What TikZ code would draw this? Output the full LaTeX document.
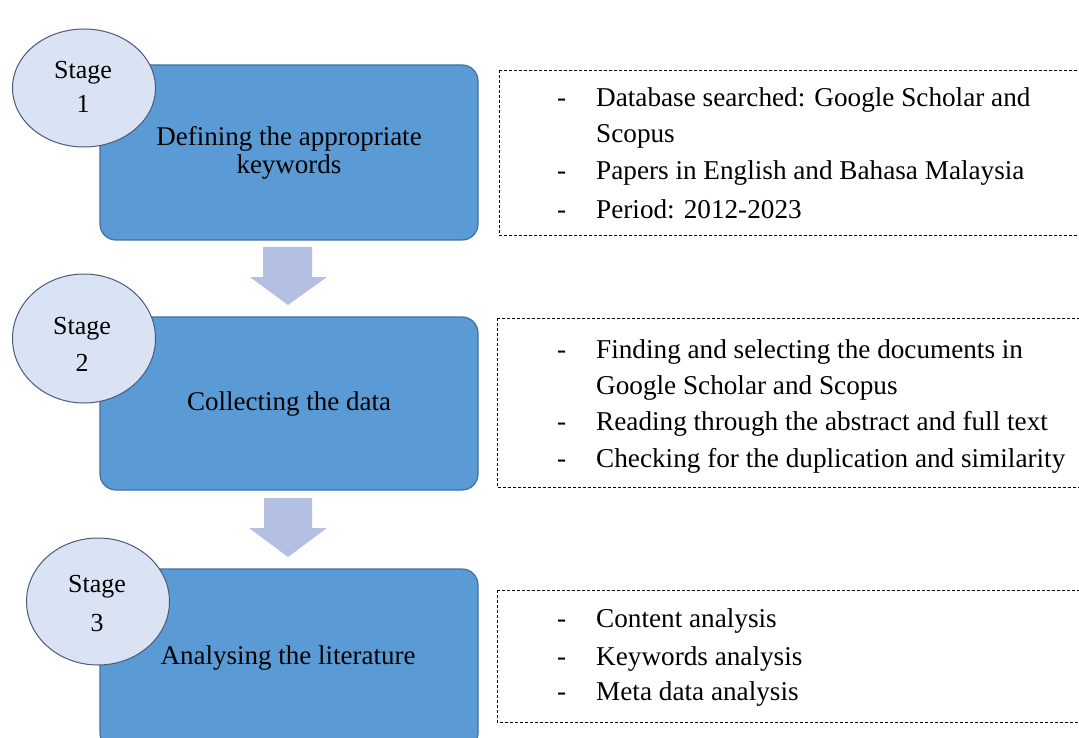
\documentclass[tikz,border=0pt]{standalone}
\usepackage{fontspec}
\setmainfont{Liberation Serif}
\usetikzlibrary{shapes.geometric}
\definecolor{boxfill}{HTML}{5B9BD5}
\definecolor{boxline}{HTML}{41719C}
\definecolor{circfill}{HTML}{DAE3F3}
\definecolor{circline}{HTML}{4A5A78}
\definecolor{arrowfill}{HTML}{B4C0E2}
\tikzset{
  stagebox/.style={draw=boxline, line width=1.2pt, fill=boxfill, rounded corners=16pt, inner sep=0pt},
  stagecirc/.style={ellipse, draw=circline, line width=1pt, fill=circfill, inner sep=0pt},
  listbox/.style={draw=black, dashed, dash pattern=on 3pt off 2pt, line width=0.9pt},
  boxtxt/.style={font=\fontsize{27}{28}\selectfont, align=center, inner sep=0pt},
  circtxt/.style={font=\fontsize{26}{28}\selectfont, anchor=base, inner sep=0pt},
  itemtxt/.style={font=\fontsize{27.2}{29}\selectfont, anchor=base west, inner sep=0pt},
  downarrow/.style={fill=arrowfill},
}
\begin{document}
\begin{tikzpicture}[x=1pt,y=-1pt]
\useasboundingbox[fill=white] (0,0) rectangle (1079,738);
% stage boxes
\node[stagebox, minimum width=378pt, minimum height=175pt] (b1) at (289,152.5) {};
\node[stagebox, minimum width=378pt, minimum height=173pt] (b2) at (289,403.5) {};
\node[stagebox, minimum width=378pt, minimum height=180pt] (b3) at (289,659) {};
\node[boxtxt, anchor=base] (t1) at (289,174) {Defining the appropriate\\keywords};
\node[boxtxt, anchor=base] (t2) at (289,410) {Collecting the data};
\node[boxtxt, anchor=base] (t3) at (288,664) {Analysing the literature};
% circles
\node[stagecirc, minimum width=143pt, minimum height=118pt] (c1) at (84,88) {};
\node[stagecirc, minimum width=143pt, minimum height=129pt] (c2) at (84,338.5) {};
\node[stagecirc, minimum width=143pt, minimum height=127pt] (c3) at (98,601.5) {};
\node[circtxt] (s1) at (83,79) {Stage};
\node[circtxt] (n1) at (83,113) {1};
\node[circtxt] (s2) at (82,334) {Stage};
\node[circtxt] (n2) at (82,371) {2};
\node[circtxt] (s3) at (97,592) {Stage};
\node[circtxt] (n3) at (97,631) {3};
% arrows
\fill[downarrow] (263,247) -- (312,247) -- (312,277) -- (327,277) -- (288,305) -- (250,277) -- (263,277) -- cycle;
\fill[downarrow] (264,498) -- (312,498) -- (312,528) -- (327,528) -- (288,557) -- (249,528) -- (264,528) -- cycle;
% list boxes
\draw[listbox] (499,70) -- (1079,70) (499,70) -- (499,235) -- (1079,235);
\draw[listbox] (497,318) -- (1079,318) (497,318) -- (497,487) -- (1079,487);
\draw[listbox] (497,590) -- (1079,590) (497,590) -- (497,722) -- (1079,722);
% list 1
\node[itemtxt] (d11) at (557,107) {-};
\node[itemtxt] (i11) at (596,107) {Database searched: Google Scholar and};
\node[itemtxt] (i11b) at (596,143) {Scopus};
\node[itemtxt] (d12) at (557,180) {-};
\node[itemtxt] (i12) at (596,180) {Papers in English and Bahasa Malaysia};
\node[itemtxt] (d13) at (557,219) {-};
\node[itemtxt] (i13) at (596,219) {Period: 2012-2023};
% list 2
\node[itemtxt] (d21) at (557,358) {-};
\node[itemtxt] (i21) at (596,358) {Finding and selecting the documents in};
\node[itemtxt] (i21b) at (596,394) {Google Scholar and Scopus};
\node[itemtxt] (d22) at (557,430) {-};
\node[itemtxt] (i22) at (596,430) {Reading through the abstract and full text};
\node[itemtxt] (d23) at (557,467) {-};
\node[itemtxt] (i23) at (596,467) {Checking for the duplication and similarity};
% list 3
\node[itemtxt] (d31) at (557,627) {-};
\node[itemtxt] (i31) at (596,627) {Content analysis};
\node[itemtxt] (d32) at (557,665) {-};
\node[itemtxt] (i32) at (596,665) {Keywords analysis};
\node[itemtxt] (d33) at (557,700) {-};
\node[itemtxt] (i33) at (596,700) {Meta data analysis};
\end{tikzpicture}
\end{document}
